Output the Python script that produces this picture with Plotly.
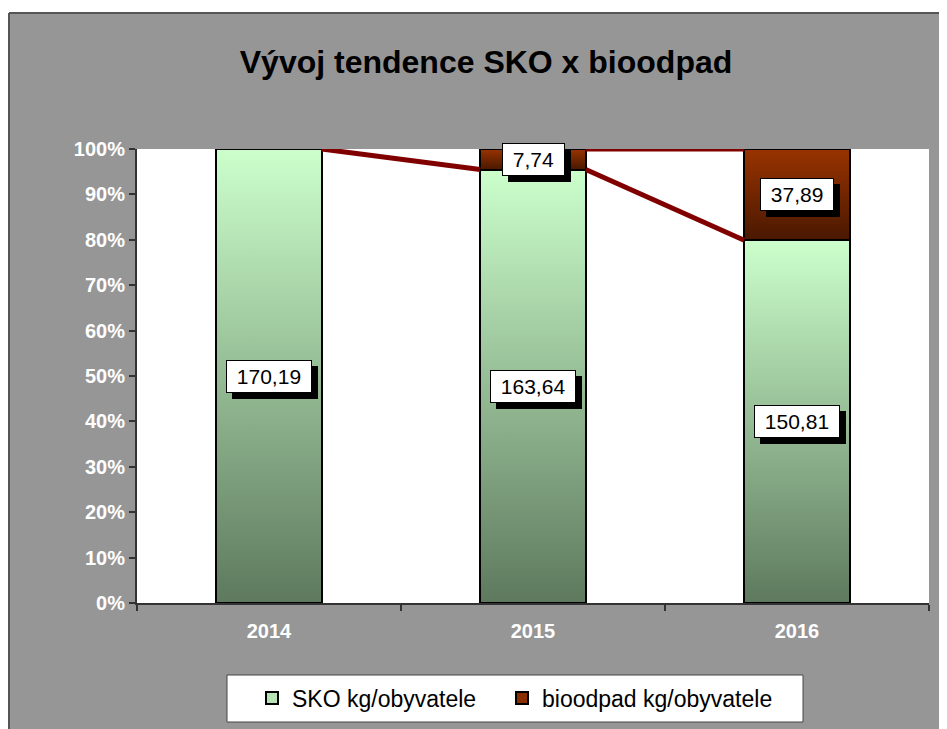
import base64
import numpy as np
import plotly.graph_objects as go

# ---- data ----
years = ["2014", "2015", "2016"]
sko_vals = [170.19, 163.64, 150.81]
bio_vals = [None, 7.74, 37.89]
sko_name = "SKO kg/obyvatele"
bio_name = "bioodpad kg/obyvatele"
title_text = "Vývoj tendence SKO x bioodpad"
y_ticks = list(range(0, 101, 10))
y_ticktext = [f"{v}%" for v in y_ticks]

FONT = "Arial, 'Liberation Sans', sans-serif"

sko = np.array(sko_vals, dtype=float)
bio = np.array([np.nan if v is None else v for v in bio_vals], dtype=float)
tot = sko + np.nan_to_num(bio)
sko_pct = sko / tot * 100
bio_pct = bio / tot * 100
xs = np.arange(len(years))
BW = 0.4

# page body has an 8px margin -> figure origin sits at window (8, 8)
OFF = 8
W, H = 947, 729
# plot area in window pixels
PL, PR, PT, PB = 137, 929, 149, 603
L, T = PL - OFF, PT - OFF
R = W - (PR - OFF)
B = H - (PB - OFF)
PW, PH = PR - PL, PB - PT


def px(x):  # window x pixel -> paper fraction
    return (x - PL) / PW


def py(y):  # window y pixel -> paper fraction
    return (PB - y) / PH


def grad_svg(top, bottom):
    svg = (
        '<svg xmlns="http://www.w3.org/2000/svg" width="10" height="100" '
        'viewBox="0 0 10 100" preserveAspectRatio="none">'
        '<defs><linearGradient id="g" x1="0" y1="0" x2="0" y2="1">'
        f'<stop offset="0" stop-color="{top}"/><stop offset="1" stop-color="{bottom}"/>'
        '</linearGradient></defs><rect width="10" height="100" fill="url(#g)"/></svg>'
    )
    return "data:image/svg+xml;base64," + base64.b64encode(svg.encode()).decode()


sko_grad = grad_svg("#CCFFCC", "#5E795E")
bio_grad = grad_svg("#993300", "#4A1800")

fig = go.Figure()

# real bars: transparent fill (gradient drawn as images beneath), black outline
fig.add_trace(go.Bar(x=xs, y=sko_pct, width=BW, name=sko_name, showlegend=False,
                     marker=dict(color="rgba(0,0,0,0)", line=dict(color="black", width=2)),
                     hoverinfo="skip"))
fig.add_trace(go.Bar(x=xs, y=bio_pct, width=BW, name=bio_name, showlegend=False,
                     marker=dict(color="rgba(0,0,0,0)", line=dict(color="black", width=2)),
                     hoverinfo="skip"))
# legend entries
fig.add_trace(go.Bar(x=[None], y=[None], name=sko_name, legendwidth=205,
                     marker=dict(color="#B5E3B5", line=dict(color="black", width=2))))
fig.add_trace(go.Bar(x=[None], y=[None], name=bio_name, legendwidth=240,
                     marker=dict(color="#8A2E00", line=dict(color="black", width=2))))

images = []
for i in range(len(years)):
    images.append(dict(source=sko_grad, xref="x", yref="y", x=xs[i] - BW / 2, y=sko_pct[i],
                       sizex=BW, sizey=sko_pct[i], xanchor="left", yanchor="top",
                       sizing="stretch", layer="below"))
    if not np.isnan(bio_pct[i]):
        images.append(dict(source=bio_grad, xref="x", yref="y", x=xs[i] - BW / 2, y=100,
                           sizex=BW, sizey=bio_pct[i], xanchor="left", yanchor="top",
                           sizing="stretch", layer="below"))

shapes = []
# series lines
for i in range(len(years) - 1):
    shapes.append(dict(type="line", xref="x", yref="y", x0=xs[i] + BW / 2, y0=sko_pct[i],
                       x1=xs[i + 1] - BW / 2, y1=sko_pct[i + 1],
                       line=dict(color="#800000", width=5)))
    if not np.isnan(bio_pct[i]) and not np.isnan(bio_pct[i + 1]):
        shapes.append(dict(type="line", xref="x", yref="y", x0=xs[i] + BW / 2, y0=100,
                           x1=xs[i + 1] - BW / 2, y1=100,
                           line=dict(color="#800000", width=5)))
# white margins outside chart area + border
shapes.append(dict(type="rect", xref="paper", yref="paper", x0=px(0), x1=px(970),
                   y0=py(13), y1=py(0), fillcolor="white", line=dict(width=0), layer="below"))
shapes.append(dict(type="rect", xref="paper", yref="paper", x0=px(0), x1=px(9),
                   y0=py(750), y1=py(0), fillcolor="white", line=dict(width=0), layer="below"))
shapes.append(dict(type="line", xref="paper", yref="paper", x0=px(9), x1=px(970),
                   y0=py(13), y1=py(13), line=dict(color="#555555", width=2)))
shapes.append(dict(type="line", xref="paper", yref="paper", x0=px(9), x1=px(9),
                   y0=py(13), y1=py(750), line=dict(color="#555555", width=2)))
# legend box
shapes.append(dict(type="rect", xref="paper", yref="paper", x0=px(227), x1=px(803),
                   y0=py(722), y1=py(675), fillcolor="white",
                   line=dict(color="#444444", width=1)))

annotations = []


def fmt(v):
    return f"{v:.2f}".replace(".", ",")


def add_label(x, y, v):
    txt = fmt(v)
    # shadow: blank box of the same width (digits = 2 nbsp, comma = 1 nbsp in Arial)
    blank = "\u00a0" * (2 + sum(2 if ch.isdigit() else 1 for ch in txt))
    annotations.append(dict(x=x, y=y, xref="x", yref="y", text=blank, showarrow=False,
                            xshift=6, yshift=-6, bgcolor="black", bordercolor="black",
                            borderwidth=1, borderpad=4,
                            font=dict(family=FONT, size=21, color="black")))
    annotations.append(dict(x=x, y=y, xref="x", yref="y", text="\u00a0" + txt + "\u00a0",
                            showarrow=False,
                            bgcolor="white", bordercolor="black", borderwidth=1, borderpad=4,
                            font=dict(family=FONT, size=21, color="black")))


for i in range(len(years)):
    add_label(xs[i], sko_pct[i] / 2, sko[i])
    if not np.isnan(bio_pct[i]):
        add_label(xs[i], sko_pct[i] + bio_pct[i] / 2, bio[i])

fig.update_layout(
    width=W, height=H,
    margin=dict(l=L, r=R, t=T, b=B, autoexpand=False),
    paper_bgcolor="#969696",
    plot_bgcolor="white",
    barmode="stack",
    title=dict(text=title_text, x=px(486), xref="paper", xanchor="center",
               y=1 - (62 - OFF) / H, yref="container", yanchor="middle",
               font=dict(family=FONT, size=32, color="black", weight="bold")),
    xaxis=dict(range=[-0.5, 2.5], tickvals=list(xs), ticktext=years, ticks="",
               showgrid=False, zeroline=False, showline=True, linecolor="#333333", linewidth=2,
               tickfont=dict(family=FONT, size=20, color="white", weight="bold"),
               ticklabelstandoff=9,
               minor=dict(tickvals=[-0.5, 0.5, 1.5, 2.5], ticks="outside", ticklen=6,
                          tickcolor="#333333", tickwidth=2, showgrid=False)),
    yaxis=dict(range=[0, 100], tickvals=y_ticks, ticktext=y_ticktext, ticks="outside",
               ticklen=6, tickcolor="#333333", tickwidth=2, showgrid=False, zeroline=False,
               showline=True, linecolor="#333333", linewidth=2,
               tickfont=dict(family=FONT, size=20, color="white", weight="bold")),
    legend=dict(orientation="h", x=px(252), xanchor="left", y=py(698), yanchor="middle",
                bgcolor="rgba(0,0,0,0)", borderwidth=0,
                font=dict(family=FONT, size=23, color="black"),
                itemwidth=30, traceorder="normal"),
    images=images,
    shapes=shapes,
    annotations=annotations,
    showlegend=True,
)

fig.write_html("out.html")
